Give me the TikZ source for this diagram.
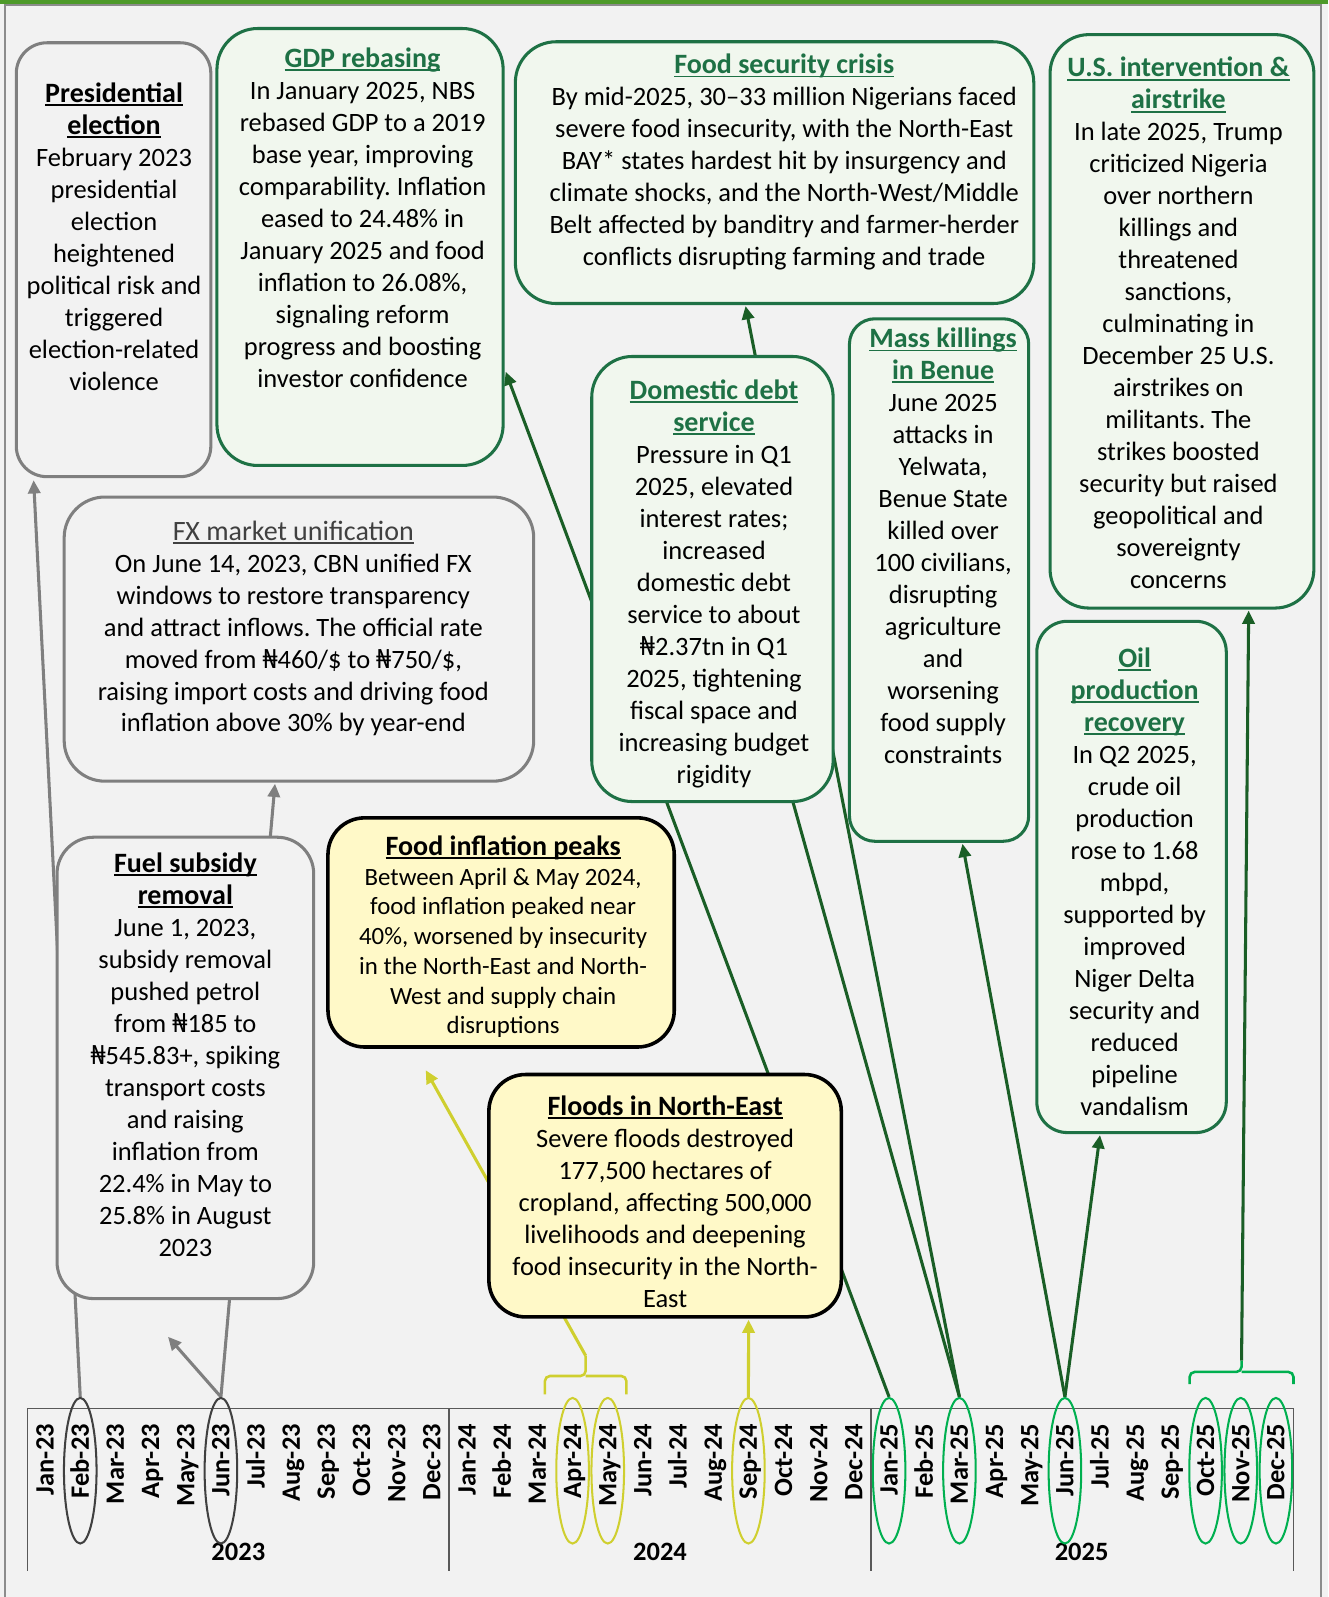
\documentclass[tikz,border=0pt]{standalone}
\usepackage{fontspec}
\setmainfont{Carlito}
\newfontfamily\nairafont{Noto Sans}
\usetikzlibrary{arrows.meta,shapes.geometric,calc}
\pgfdeclarelayer{pagebg}
\pgfdeclarelayer{lines}
\pgfsetlayers{pagebg,lines,main}
\definecolor{bgc}{HTML}{F2F2F2}
\definecolor{gbord}{HTML}{7F7F7F}
\definecolor{framec}{HTML}{8C8C8C}
\definecolor{dgreen}{HTML}{1E7145}
\definecolor{gfill}{HTML}{F1F7EE}
\definecolor{agreen}{HTML}{1A5E26}
\definecolor{yfill}{HTML}{FFF9C8}
\definecolor{yline}{HTML}{CFCF2F}
\definecolor{egreen}{HTML}{00B050}
\definecolor{edark}{HTML}{404040}
\definecolor{axisc}{HTML}{595959}
\definecolor{topgreen}{HTML}{4E9A2A}
\definecolor{fxtitle}{HTML}{404040}
\newcommand\naira{{\nairafont ₦}}
\newsavebox\undlbox
\newcommand\undl[1]{\sbox\undlbox{#1}\rlap{\rule[-0.13em]{\wd\undlbox}{0.07em}}\usebox\undlbox}
\newcommand\ttlf{\fontsize{27.5}{31.4}\selectfont\bfseries}
\frenchspacing
\begin{document}
\begin{tikzpicture}[x=1pt,y=-1pt,
  graybox/.style={draw=gbord,fill=bgc,line width=3pt,rounded corners=#1,inner sep=0pt},
  graybox/.default=32pt,
  greenbox/.style={draw=dgreen,fill=gfill,line width=3pt,rounded corners=#1,inner sep=0pt},
  greenbox/.default=38pt,
  yellowbox/.style={draw=black,fill=yfill,line width=3.5pt,rounded corners=#1,inner sep=0pt},
  yellowbox/.default=34pt,
  txt/.style={anchor=north,align=center,inner sep=0pt,font=\frenchspacing\fontsize{26}{31.4}\selectfont},
  mlab/.style={rotate=90,anchor=mid east,inner sep=0pt,font=\bfseries\fontsize{26}{26}\selectfont},
  ylab/.style={inner sep=0pt,font=\bfseries\fontsize{26}{26}\selectfont},
  ell/.style={ellipse,draw=#1,line width=2pt,minimum width=32pt,minimum height=143pt,inner sep=0pt},
  axisline/.style={draw=axisc,line width=1.6pt},
  garr/.style={draw=gbord,line width=3pt,-{Triangle[length=13pt,width=12pt]}},
  yarr/.style={draw=yline,line width=3pt,-{Triangle[length=13pt,width=12pt]}},
  darr/.style={draw=agreen,line width=3pt,-{Triangle[length=13pt,width=12pt]}},
  dline/.style={draw=agreen,line width=3pt},
  brk/.style={line width=2.5pt,rounded corners=5pt}
]
\useasboundingbox (0,0) rectangle (1304,1568);
\begin{pgfonlayer}{pagebg}
  \fill[bgc] (0,0) rectangle (1304,1568);
  \fill[topgreen] (0,0) rectangle (1304,3.5);
  \draw[framec,line width=2pt] (5,1570) -- (5,5) -- (1297,5) -- (1297,1570);
\end{pgfonlayer}

% ---------- boxes ----------
\node[graybox=30pt,minimum width=191pt,minimum height=426pt] (pres) at (111.5,255) {};
\node[greenbox=40pt,minimum width=281pt,minimum height=429pt] (gdp) at (353.5,242.5) {};
\node[greenbox=40pt,minimum width=509pt,minimum height=257pt] (fsec) at (760.5,169.5) {};
\node[greenbox=38pt,minimum width=259pt,minimum height=563pt] (us) at (1160.5,315.5) {};
\node[graybox=40pt,minimum width=461pt,minimum height=279pt] (fx) at (293.5,627.5) {};
\node[greenbox=40pt,minimum width=237pt,minimum height=437pt] (debt) at (699.5,568.5) {};
\node[greenbox=25pt,minimum width=176pt,minimum height=513pt] (mass) at (922,569.5) {};
\node[greenbox=30pt,minimum width=186pt,minimum height=502pt] (oil) at (1111,861) {};
\node[graybox=36pt,minimum width=252pt,minimum height=453pt] (fuel) at (182,1048.5) {};
\node[yellowbox=36pt,minimum width=340pt,minimum height=225pt] (finf) at (492,915.5) {};
\node[yellowbox=36pt,minimum width=346pt,minimum height=238pt] (flood) at (653,1174) {};

% ---------- texts ----------
\node[txt] (pres-t) at (112,81) {{\ttlf\undl{Presidential}}\\{\ttlf\undl{election}}\\February 2023\\presidential\\election\\heightened\\political risk and\\triggered\\election-related\\violence};
\node[txt] (gdp-t) at (356,47) {{\ttlf\color{dgreen}\undl{GDP rebasing}}\\In January 2025, NBS\\rebased GDP to a 2019\\base year, improving\\comparability. Inflation\\eased to 24.48\% in\\January 2025 and food\\inflation to 26.08\%,\\signaling reform\\progress and boosting\\investor confidence};
\node[txt] (fsec-t) at (770,53) {{\ttlf\color{dgreen}\undl{Food security crisis}}\\By mid-2025, 30–33 million Nigerians faced\\severe food insecurity, with the North-East\\BAY* states hardest hit by insurgency and\\climate shocks, and the North-West/Middle\\Belt affected by banditry and farmer-herder\\conflicts disrupting farming and trade};
\node[txt] (us-t) at (1157,56) {{\ttlf\color{dgreen}\undl{U.S. intervention \&}}\\{\ttlf\color{dgreen}\undl{airstrike}}\\In late 2025, Trump\\criticized Nigeria\\over northern\\killings and\\threatened\\sanctions,\\culminating in\\December 25 U.S.\\airstrikes on\\militants. The\\strikes boosted\\security but raised\\geopolitical and\\sovereignty\\concerns};
\node[txt] (fx-t) at (288,511) {{\fontsize{27.5}{31.4}\selectfont\color{fxtitle}\undl{FX market unification}}\\On June 14, 2023, CBN unified FX\\windows to restore transparency\\and attract inflows. The official rate\\moved from \naira460/\$ to \naira750/\$,\\raising import costs and driving food\\inflation above 30\% by year-end};
\node[txt] (debt-t) at (701,373) {{\ttlf\color{dgreen}\undl{Domestic debt}}\\{\ttlf\color{dgreen}\undl{service}}\\Pressure in Q1\\2025, elevated\\interest rates;\\increased\\domestic debt\\service to about\\\naira2.37tn in Q1\\2025, tightening\\fiscal space and\\increasing budget\\rigidity};
\node[txt] (mass-t) at (926,322) {{\ttlf\color{dgreen}\undl{Mass killings}}\\{\ttlf\color{dgreen}\undl{in Benue}}\\June 2025\\attacks in\\Yelwata,\\Benue State\\killed over\\100 civilians,\\disrupting\\agriculture\\and\\worsening\\food supply\\constraints};
\node[txt] (oil-t) at (1114,636) {{\ttlf\color{dgreen}\undl{Oil}}\\{\ttlf\color{dgreen}\undl{production}}\\{\ttlf\color{dgreen}\undl{recovery}}\\In Q2 2025,\\crude oil\\production\\rose to 1.68\\mbpd,\\supported by\\improved\\Niger Delta\\security and\\reduced\\pipeline\\vandalism};
\node[txt] (fuel-t) at (182,837) {{\ttlf\undl{Fuel subsidy}}\\{\ttlf\undl{removal}}\\June 1, 2023,\\subsidy removal\\pushed petrol\\from \naira185 to\\\naira545.83+, spiking\\transport costs\\and raising\\inflation from\\22.4\% in May to\\25.8\% in August\\2023};
\node[txt] (finf-h) at (494,820) {{\ttlf\undl{Food inflation peaks}}};
\node[txt,font=\frenchspacing\fontsize{24.4}{29.2}\selectfont] (finf-t) at (494,852) {Between April \& May 2024,\\food inflation peaked near\\40\%, worsened by insecurity\\in the North-East and North-\\West and supply chain\\disruptions};
\node[txt] (flood-t) at (653,1076) {{\ttlf\undl{Floods in North-East}}\\Severe floods destroyed\\177,500 hectares of\\cropland, affecting 500,000\\livelihoods and deepening\\food insecurity in the North-\\East};

% ---------- timeline ----------
\draw[axisline] (27,1383) -- (1270,1383);
\foreach \xv in {27,441,855,1270} \draw[axisline] (\xv,1383) -- (\xv,1542);
\foreach \yr [count=\j from 0] in {23,24,25}{
  \foreach \mo [count=\k from 0] in {Jan,Feb,Mar,Apr,May,Jun,Jul,Aug,Sep,Oct,Nov,Dec}{
    \pgfmathsetmacro\xx{33+34.528*(12*\j+\k+0.5)}
    \node[mlab] (lab\mo\yr) at (\xx,1398) {\mo-\yr};
  }
}
\node[ylab] (y2023) at (234,1524) {2023};
\node[ylab] (y2024) at (648,1524) {2024};
\node[ylab] (y2025) at (1062,1524) {2025};

\node[ell=edark] (efeb23) at ({27+34.528*1.5},1444) {};
\node[ell=edark] (ejun23) at ({27+34.528*5.5},1444) {};
\node[ell=yline] (eapr24) at ({27+34.528*15.5},1444) {};
\node[ell=yline] (emay24) at ({27+34.528*16.5},1444) {};
\node[ell=yline] (esep24) at ({27+34.528*20.5},1444) {};
\node[ell=egreen] (ejan25) at ({27+34.528*24.5},1444) {};
\node[ell=egreen] (emar25) at ({27+34.528*26.5},1444) {};
\node[ell=egreen] (ejun25) at ({27+34.528*29.5},1444) {};
\node[ell=egreen] (eoct25) at ({27+34.528*33.5},1444) {};
\node[ell=egreen] (enov25) at ({27+34.528*34.5},1444) {};
\node[ell=egreen] (edec25) at ({27+34.528*35.5},1444) {};

% brackets
\draw[brk,yline] (535,1369) -- (535,1351) -- (575,1351) -- (575,1331);
\draw[brk,yline] (615,1369) -- (615,1351) -- (575,1351);
\coordinate (brY) at (575,1331);
\draw[brk,egreen] (1168,1359) -- (1168,1347) -- (1219,1347) -- (1219,1336);
\draw[brk,egreen] (1270,1359) -- (1270,1347) -- (1219,1347);
\coordinate (brG) at (1219,1336);

% ---------- connectors ----------
\begin{pgfonlayer}{lines}
\draw[garr] (efeb23.north) -- ($(pres.south)+(-78.5,2)$);
\draw[garr] (ejun23.north) -- ($(fx.south)+(-23.5,1)$);
\draw[garr] (ejun23.north) -- ($(fuel.south)+(-17,36)$);
\draw[yarr] (brY) -- ($(finf.south)+(-74,21)$);
\draw[yarr] (esep24.north) -- ($(flood.south)+(82,1)$);
\draw[darr] (ejan25.north) -- ($(gdp.east)+(1,122.5)$);
\draw[dline] (emar25.north) -- ($(debt.south)+(78.5,-3)$);
\draw[darr] (emar25.north) -- ($(fsec.south)+(-28.5,1)$);
\draw[darr] (ejun25.north) -- ($(mass.south)+(23,1)$);
\draw[darr] (ejun25.north) -- ($(oil.south)+(-31,1)$);
\draw[darr] (brG) -- ($(us.south)+(65.5,1)$);
\end{pgfonlayer}
\end{tikzpicture}
\end{document}
